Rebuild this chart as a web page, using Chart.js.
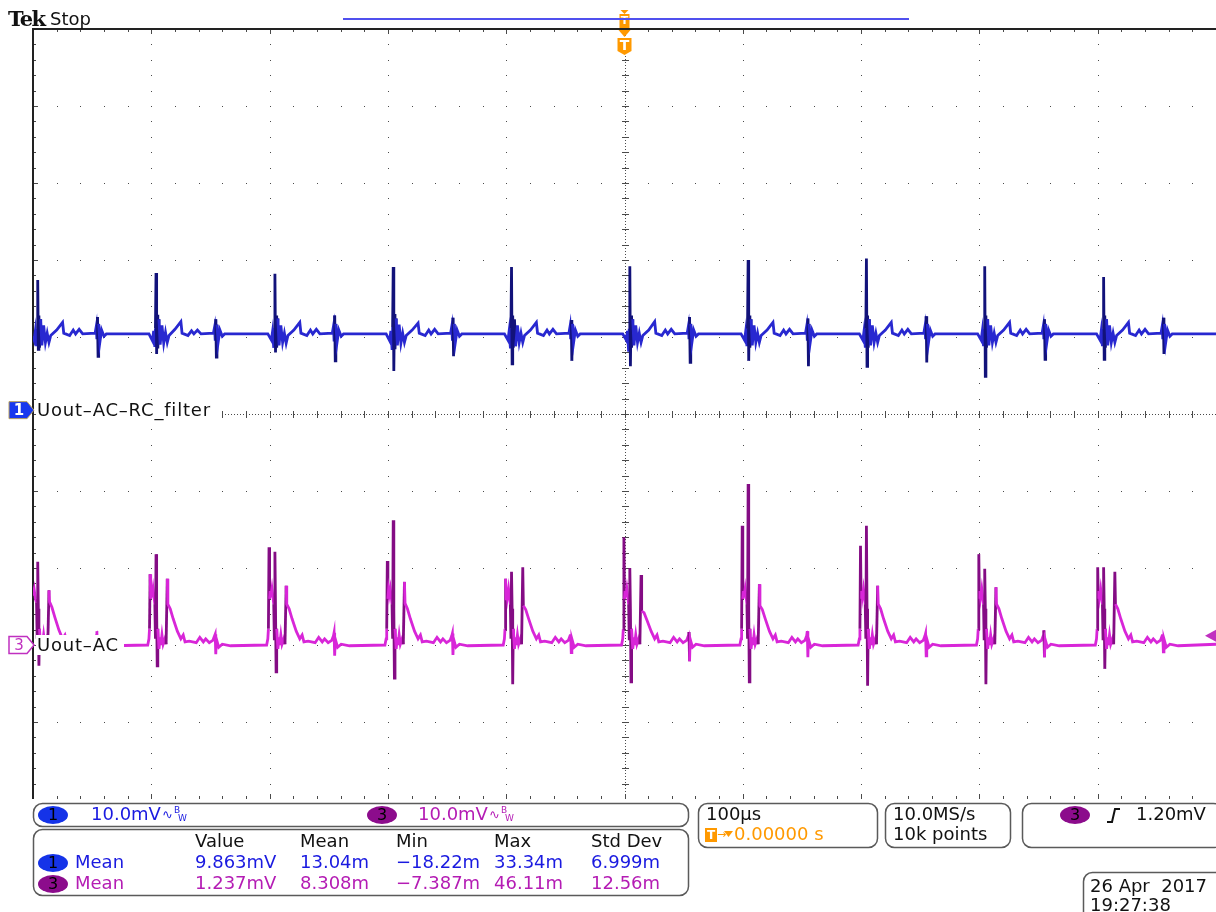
<!DOCTYPE html>
<html>
<head>
<meta charset="utf-8">
<script src="https://cdn.jsdelivr.net/npm/chart.js@4.4.1/dist/chart.umd.min.js"></script>
<style>
  html, body { margin: 0; padding: 0; background: #fff; }
  #scope { display: block; }
</style>
</head>
<body>
<canvas id="scope" width="1216" height="912"></canvas>
<script>
// channel 1 : Uout-AC-RC_filter  (time in µs, voltage in mV)
const ch1Time = [
  -500, -499, -498, -497, -496.5, -496, -495.5, -495, -494.5, -493.5, -492.5, -491, -489.5, -488, -486.5, -485, -480, -475, -474, -469, -466, -464, -461, -458, -447.5, -446.5, -446, -445.5, -445, -444.5, -443.5, -442, -440, -438,
  -402, -399, -398, -397, -396.5, -396, -395.5, -395, -394.5, -393.5, -392.5, -391, -389.5, -388, -386.5, -385, -380, -375, -374, -369, -366, -364, -361, -358, -347.5, -346.5, -346, -345.5, -345, -344.5, -343.5, -342, -340, -338,
  -301.5, -298.5, -297.5, -296.5, -296, -295.5, -295, -294.5, -294, -293, -292, -290.5, -289, -287.5, -286, -284.5, -279.5, -274.5, -273.5, -268.5, -265.5, -263.5, -260.5, -257.5, -247, -246, -245.5, -245, -244.5, -244, -243, -241.5, -239.5, -237.5,
  -201.5, -198.5, -197.5, -196.5, -196, -195.5, -195, -194.5, -194, -193, -192, -190.5, -189, -187.5, -186, -184.5, -179.5, -174.5, -173.5, -168.5, -165.5, -163.5, -160.5, -157.5, -147, -146, -145.5, -145, -144.5, -144, -143, -141.5, -139.5, -137.5,
  -101.5, -98.5, -97.5, -96.5, -96, -95.5, -95, -94.5, -94, -93, -92, -90.5, -89, -87.5, -86, -84.5, -79.5, -74.5, -73.5, -68.5, -65.5, -63.5, -60.5, -57.5, -47, -46, -45.5, -45, -44.5, -44, -43, -41.5, -39.5, -37.5,
  -1.5, 1.5, 2.5, 3.5, 4, 4.5, 5, 5.5, 6, 7, 8, 9.5, 11, 12.5, 14, 15.5, 20.5, 25.5, 26.5, 31.5, 34.5, 36.5, 39.5, 42.5, 53, 54, 54.5, 55, 55.5, 56, 57, 58.5, 60.5, 62.5,
  98.5, 101.5, 102.5, 103.5, 104, 104.5, 105, 105.5, 106, 107, 108, 109.5, 111, 112.5, 114, 115.5, 120.5, 125.5, 126.5, 131.5, 134.5, 136.5, 139.5, 142.5, 153, 154, 154.5, 155, 155.5, 156, 157, 158.5, 160.5, 162.5,
  198.5, 201.5, 202.5, 203.5, 204, 204.5, 205, 205.5, 206, 207, 208, 209.5, 211, 212.5, 214, 215.5, 220.5, 225.5, 226.5, 231.5, 234.5, 236.5, 239.5, 242.5, 253, 254, 254.5, 255, 255.5, 256, 257, 258.5, 260.5, 262.5,
  298.5, 301.5, 302.5, 303.5, 304, 304.5, 305, 305.5, 306, 307, 308, 309.5, 311, 312.5, 314, 315.5, 320.5, 325.5, 326.5, 331.5, 334.5, 336.5, 339.5, 342.5, 353, 354, 354.5, 355, 355.5, 356, 357, 358.5, 360.5, 362.5,
  399, 402, 403, 404, 404.5, 405, 405.5, 406, 406.5, 407.5, 408.5, 410, 411.5, 413, 414.5, 416, 421, 426, 427, 432, 435, 437, 440, 443, 453.5, 454.5, 455, 455.5, 456, 456.5, 457.5, 459, 461, 463,
  500
];
const ch1Mv = [
  9.6, 9.1, 10.3, 8.3, 10.6, 16.9, 7.9, 12.3, 8.1, 11.8, 8.4, 11.0, 8.8, 10.0, 8.8, 9.7, 10.4, 11.4, 10.0, 9.7, 10.4, 9.9, 10.5, 9.9, 10.0, 10.9, 9.2, 12.1, 7.0, 11.2, 8.8, 10.4, 9.6, 9.9,
  9.9, 9.0, 10.3, 8.2, 10.6, 17.8, 7.3, 12.4, 8.0, 11.8, 8.5, 11.0, 8.7, 10.1, 8.8, 9.7, 10.5, 11.5, 10.0, 9.7, 10.3, 9.9, 10.4, 9.9, 10.0, 10.8, 9.2, 11.8, 6.9, 11.1, 8.8, 10.4, 9.6, 9.9,
  9.9, 9.1, 10.2, 8.1, 10.7, 17.7, 7.5, 12.3, 8.1, 11.9, 8.4, 11.0, 8.8, 10.0, 8.7, 9.7, 10.4, 11.4, 10.0, 9.7, 10.4, 9.9, 10.5, 9.9, 10.0, 10.9, 9.1, 12.3, 6.4, 11.2, 8.8, 10.4, 9.6, 9.9,
  9.9, 9.0, 10.3, 8.0, 10.8, 18.6, 5.1, 12.5, 7.9, 11.9, 8.4, 11.1, 8.7, 10.0, 8.8, 9.7, 10.4, 11.3, 10.0, 9.7, 10.4, 9.9, 10.5, 9.9, 10.0, 10.9, 9.2, 12.0, 7.0, 11.2, 8.8, 10.4, 9.6, 9.9,
  9.9, 9.1, 10.3, 8.2, 10.6, 18.6, 6.0, 12.3, 8.1, 11.8, 8.3, 11.0, 8.8, 10.0, 8.8, 9.7, 10.4, 11.4, 10.0, 9.7, 10.4, 9.9, 10.5, 9.9, 10.0, 10.9, 9.2, 11.7, 6.4, 11.2, 8.8, 10.4, 9.6, 9.9,
  9.9, 9.1, 10.3, 7.6, 10.6, 18.7, 5.7, 12.3, 8.1, 11.8, 8.4, 11.0, 8.8, 10.0, 8.8, 9.7, 10.4, 11.5, 10.0, 9.7, 10.4, 9.9, 10.5, 9.9, 10.0, 10.9, 9.2, 12.1, 6.2, 11.2, 8.8, 10.4, 9.6, 9.9,
  9.9, 9.1, 10.3, 8.3, 10.6, 19.5, 6.4, 12.3, 8.1, 11.8, 8.4, 11.0, 8.8, 10.0, 8.8, 9.7, 10.4, 11.4, 10.0, 9.7, 10.4, 9.9, 10.5, 9.9, 10.0, 10.9, 9.2, 11.9, 5.7, 11.2, 8.8, 10.4, 9.6, 9.9,
  9.9, 9.1, 10.3, 8.3, 10.6, 19.7, 5.7, 12.3, 8.1, 11.8, 8.4, 11.0, 8.8, 10.0, 8.8, 9.7, 10.4, 11.4, 10.0, 9.7, 10.4, 9.9, 10.5, 9.9, 10.0, 10.9, 9.2, 12.2, 6.2, 11.2, 8.8, 10.4, 9.6, 9.9,
  9.9, 9.1, 10.3, 8.3, 10.6, 18.7, 4.4, 12.3, 8.1, 11.8, 8.4, 11.0, 8.8, 10.0, 8.8, 9.7, 10.4, 11.4, 10.0, 9.7, 10.4, 9.9, 10.5, 9.9, 10.0, 10.9, 9.2, 11.8, 6.6, 11.2, 8.8, 10.4, 9.6, 9.9,
  9.9, 9.1, 10.3, 8.3, 10.6, 17.3, 6.6, 12.3, 8.1, 11.8, 8.4, 11.0, 8.8, 10.0, 8.8, 9.7, 10.4, 11.4, 10.0, 9.7, 10.4, 9.9, 10.5, 9.9, 10.0, 10.9, 9.2, 12.0, 7.3, 11.2, 8.8, 10.4, 9.6, 9.9,
  9.9
];

// channel 3 : Uout-AC
const ch3Time = [
  -500, -499, -498, -497, -496.5, -496, -495.5, -495, -494.5, -493.5, -492.5, -492, -491, -490, -488.5, -487.5, -486.5, -486, -484, -481.5, -478, -475, -473, -471.5, -468, -462, -459, -456, -454, -451, -448, -446.5, -446, -445.5, -445, -443, -440, -433,
  -403, -402, -401.5, -401, -400.5, -400, -399.5, -398.5, -397.5, -397, -396.5, -396, -395.5, -395, -394.5, -393.5, -392.5, -392, -391, -390, -388.5, -387.5, -386.5, -386, -384, -381.5, -378, -375, -373, -371.5, -368, -362, -359, -356, -354, -351, -348, -346.5, -346, -345.5, -345, -343, -340, -333,
  -302.5, -301.5, -301, -300.5, -300, -299.5, -299, -298, -297, -296.5, -296, -295.5, -295, -294.5, -294, -293, -292, -291.5, -290.5, -289.5, -288, -287, -286, -285.5, -283.5, -281, -277.5, -274.5, -272.5, -271, -267.5, -261.5, -258.5, -255.5, -253.5, -250.5, -247.5, -246, -245.5, -245, -244.5, -242.5, -239.5, -232.5,
  -202.5, -201.5, -201, -200.5, -200, -199.5, -199, -198, -197, -196.5, -196, -195.5, -195, -194.5, -194, -193, -192, -191.5, -190.5, -189.5, -188, -187, -186, -185.5, -183.5, -181, -177.5, -174.5, -172.5, -171, -167.5, -161.5, -158.5, -155.5, -153.5, -150.5, -147.5, -146, -145.5, -145, -144.5, -142.5, -139.5, -132.5,
  -102.5, -101.5, -101, -100.5, -100, -99.5, -99, -98, -97, -96.5, -96, -95.5, -95, -94.5, -94, -93, -92, -91.5, -90.5, -89.5, -88, -87, -86, -85.5, -83.5, -81, -77.5, -74.5, -72.5, -71, -67.5, -61.5, -58.5, -55.5, -53.5, -50.5, -47.5, -46, -45.5, -45, -44.5, -42.5, -39.5, -32.5,
  -2.5, -1.5, -1, -0.5, 0, 0.5, 1, 2, 3, 3.5, 4, 4.5, 5, 5.5, 6, 7, 8, 8.5, 9.5, 10.5, 12, 13, 14, 14.5, 16.5, 19, 22.5, 25.5, 27.5, 29, 32.5, 38.5, 41.5, 44.5, 46.5, 49.5, 52.5, 54, 54.5, 55, 55.5, 57.5, 60.5, 67.5,
  97.5, 98.5, 99, 99.5, 100, 100.5, 101, 102, 103, 103.5, 104, 104.5, 105, 105.5, 106, 107, 108, 108.5, 109.5, 110.5, 112, 113, 114, 114.5, 116.5, 119, 122.5, 125.5, 127.5, 129, 132.5, 138.5, 141.5, 144.5, 146.5, 149.5, 152.5, 154, 154.5, 155, 155.5, 157.5, 160.5, 167.5,
  197.5, 198.5, 199, 199.5, 200, 200.5, 201, 202, 203, 203.5, 204, 204.5, 205, 205.5, 206, 207, 208, 208.5, 209.5, 210.5, 212, 213, 214, 214.5, 216.5, 219, 222.5, 225.5, 227.5, 229, 232.5, 238.5, 241.5, 244.5, 246.5, 249.5, 252.5, 254, 254.5, 255, 255.5, 257.5, 260.5, 267.5,
  297.5, 298.5, 299, 299.5, 300, 300.5, 301, 302, 303, 303.5, 304, 304.5, 305, 305.5, 306, 307, 308, 308.5, 309.5, 310.5, 312, 313, 314, 314.5, 316.5, 319, 322.5, 325.5, 327.5, 329, 332.5, 338.5, 341.5, 344.5, 346.5, 349.5, 352.5, 354, 354.5, 355, 355.5, 357.5, 360.5, 367.5,
  398, 399, 399.5, 400, 400.5, 401, 401.5, 402.5, 403.5, 404, 404.5, 405, 405.5, 406, 406.5, 407.5, 408.5, 409, 410, 411, 412.5, 413.5, 414.5, 415, 417, 419.5, 423, 426, 428, 429.5, 433, 439, 442, 445, 447, 450, 453, 454.5, 455, 455.5, 456, 458, 461, 468,
  500
];
const ch3Mv = [
  6.4, 7.2, 6.0, 5.5, 1.0, 10.8, 4.7, -2.7, 2.1, -0.5, 1.0, 0.0, 1.3, 0.1, 0.8, 0.1, 7.1, 5.6, 4.9, 3.6, 1.9, 0.8, 1.3, 0.4, 0.5, 0.3, 1.0, 0.4, 0.8, 0.3, 0.6, 1.2, 1.8, -1.2, 0.8, -0.3, 0.1, -0.1,
  0.0, 0.8, 2.1, 9.2, 6.0, 7.0, 6.2, 7.3, 6.0, 5.3, 0.8, 11.8, 4.7, -2.7, 2.1, -0.5, 1.0, 0.0, 1.3, 0.1, 0.8, 0.1, 8.6, 5.3, 4.7, 3.4, 1.8, 0.8, 1.3, 0.4, 0.5, 0.3, 1.0, 0.4, 0.8, 0.3, 0.6, 1.2, 1.4, -1.2, 0.8, -0.3, 0.1, -0.1,
  0.0, 0.8, 2.1, 12.7, 6.0, 7.0, 6.2, 7.3, 6.0, 5.3, 0.8, 12.1, 4.7, -3.5, 2.1, -0.5, 1.0, 0.0, 1.3, 0.1, 0.8, 0.1, 7.7, 5.3, 4.7, 3.4, 1.8, 0.8, 1.3, 0.4, 0.5, 0.3, 1.0, 0.4, 0.8, 0.3, 0.6, 1.2, 1.6, -1.4, 0.8, -0.3, 0.1, -0.1,
  0.0, 0.8, 2.1, 10.9, 6.0, 7.0, 6.4, 7.3, 6.0, 5.3, 0.8, 16.2, 4.7, -4.3, 2.1, -0.5, 1.0, 0.0, 1.3, 0.1, 0.8, 0.1, 8.2, 5.4, 4.7, 3.4, 1.8, 0.8, 1.3, 0.4, 0.5, 0.3, 1.0, 0.4, 0.8, 0.3, 0.6, 1.2, 1.5, -1.3, 0.8, -0.3, 0.1, -0.1,
  0.0, 0.8, 2.1, 8.6, 6.0, 7.0, 6.2, 7.3, 6.0, 5.3, 0.8, 9.5, 4.7, -5.1, 2.1, -0.5, 1.0, 0.0, 1.3, 0.1, 0.8, 0.1, 10.1, 5.1, 4.6, 3.4, 1.8, 0.8, 1.3, 0.4, 0.5, 0.3, 1.0, 0.4, 0.8, 0.3, 0.6, 1.2, 1.3, -1.0, 0.8, -0.3, 0.1, -0.1,
  0.0, 0.8, 2.1, 14.0, 6.0, 7.0, 6.2, 7.3, 6.0, 5.3, 0.8, 10.0, 4.7, -4.8, 2.1, -0.5, 1.0, 0.0, 1.3, 0.1, 0.8, 0.1, 9.1, 4.4, 4.2, 3.2, 1.8, 0.8, 1.3, 0.4, 0.5, 0.3, 1.0, 0.4, 0.8, 0.3, 0.6, 1.2, 1.7, -2.1, 0.8, -0.3, 0.1, -0.1,
  0.0, 0.8, 2.1, 15.5, 6.0, 7.0, 6.2, 7.3, 6.0, 5.3, 0.8, 20.9, 4.7, -4.8, 2.1, -0.5, 1.0, 0.0, 1.3, 0.1, 0.8, 0.1, 7.9, 5.1, 4.6, 3.4, 1.8, 0.8, 1.3, 0.4, 0.5, 0.3, 1.0, 0.4, 0.8, 0.3, 0.6, 1.2, 1.8, -1.6, 0.8, -0.3, 0.1, -0.1,
  0.0, 0.8, 2.1, 12.9, 6.0, 7.0, 6.2, 7.3, 6.0, 5.3, 0.8, 15.5, 4.7, -5.3, 2.1, -0.5, 1.0, 0.0, 1.3, 0.1, 0.8, 0.1, 7.7, 5.3, 4.7, 3.4, 1.8, 0.8, 1.3, 0.4, 0.5, 0.3, 1.0, 0.4, 0.8, 0.3, 0.6, 1.2, 1.5, -1.4, 0.8, -0.3, 0.1, -0.1,
  0.0, 0.8, 2.1, 11.8, 6.0, 7.0, 6.2, 7.3, 6.0, 5.3, 0.8, 9.9, 4.7, -5.1, 2.1, -0.5, 1.0, 0.0, 1.3, 0.1, 0.8, 0.1, 7.5, 5.3, 4.7, 3.4, 1.8, 0.8, 1.3, 0.4, 0.5, 0.3, 1.0, 0.4, 0.8, 0.3, 0.6, 1.2, 1.9, -1.6, 0.8, -0.3, 0.1, -0.1,
  0.0, 0.8, 2.1, 10.1, 6.0, 7.0, 6.2, 7.3, 6.0, 5.3, 0.8, 10.1, 4.7, -3.1, 2.1, -0.5, 1.0, 0.0, 1.3, 0.1, 0.8, 0.1, 9.5, 5.3, 4.7, 3.4, 1.8, 0.8, 1.3, 0.4, 0.5, 0.3, 1.0, 0.4, 0.8, 0.3, 0.6, 1.2, 1.3, -0.9, 0.8, -0.3, 0.1, -0.1,
  0.1
];

// screen: 10 div x 100 µs, 10 div vertical, 10 mV/div on both channels
const xTicks = [-500, -400, -300, -200, -100, 0, 100, 200, 300, 400, 500];
const yTicks = [-5, -4, -3, -2, -1, 0, 1, 2, 3, 4, 5];
const mvPerDiv = 10;
const ch1Pos = 0.05;   // ground marker, divisions
const ch3Pos = -3.0;
const trigLevelMv = 1.2;

const statHeader = ['Value', 'Mean', 'Min', 'Max', 'Std Dev'];
const ch1Stats = ['9.863mV', '13.04m', '\u221218.22m', '33.34m', '6.999m'];
const ch3Stats = ['1.237mV', '8.308m', '\u22127.387m', '46.11m', '12.56m'];
const statCols = [195, 300, 396, 494, 591];

const BLUE = '#1a1ae0';
const MAG = '#b41cb4';
const ORANGE = '#ff9900';
const FONT = '"DejaVu Sans", sans-serif';

const toPoints = (t, v, pos) => t.map((x, i) => ({ x: x, y: pos + v[i] / mvPerDiv }));

// steep, short segments are drawn darker, like the dense spots of the scope display
const steep = (dark) => (c) => {
  const dx = Math.abs(c.p1.parsed.x - c.p0.parsed.x);
  const dy = Math.abs(c.p1.parsed.y - c.p0.parsed.y);
  return dx <= 1 && dy > 0.35 ? dark : undefined;
};

function panel(ctx, x, y, w, h) {
  ctx.beginPath();
  ctx.roundRect(x + 0.5, y + 0.5, w, h, 9);
  ctx.strokeStyle = '#5a5a5a';
  ctx.lineWidth = 1.5;
  ctx.stroke();
}

function badge(ctx, cx, cy, fill, label) {
  ctx.beginPath();
  ctx.ellipse(cx, cy, 15, 9, 0, 0, Math.PI * 2);
  ctx.fillStyle = fill;
  ctx.fill();
  ctx.fillStyle = '#000';
  ctx.font = '16px ' + FONT;
  ctx.textAlign = 'center';
  ctx.textBaseline = 'middle';
  ctx.fillText(label, cx, cy + 1);
  ctx.textAlign = 'left';
}

function bwText(ctx, x, y, color) {
  ctx.fillStyle = color;
  ctx.font = '18px ' + FONT;
  ctx.textBaseline = 'middle';
  ctx.fillText('10.0mV', x, y);
  const w = ctx.measureText('10.0mV').width;
  ctx.font = '13px ' + FONT;
  ctx.fillText('\u223F', x + w + 1, y + 1);
  ctx.font = '9px ' + FONT;
  ctx.fillText('B', x + w + 13, y - 4);
  ctx.fillText('W', x + w + 17, y + 4);
}

const scopePlugin = {
  id: 'scope',
  beforeDatasetsDraw(chart) {
    const ctx = chart.ctx;
    const { left, right, top, bottom } = chart.chartArea;
    const xs = chart.scales.x, ys = chart.scales.y;
    const cx = Math.round(xs.getPixelForValue(0));
    const cy = Math.round(ys.getPixelForValue(0));
    ctx.save();
    ctx.fillStyle = '#4a4a4a';
    // dotted major lines
    xTicks.forEach(t => {
      if (t === 0 || t === -500 || t === 500) return;
      const px = Math.round(xs.getPixelForValue(t));
      for (let k = 1; k < 50; k++) ctx.fillRect(px, Math.round(ys.getPixelForValue(-5 + k * 0.2)), 1, 1);
    });
    yTicks.forEach(v => {
      if (v === 0 || v === -5 || v === 5) return;
      const py = Math.round(ys.getPixelForValue(v));
      for (let k = 1; k < 50; k++) ctx.fillRect(Math.round(xs.getPixelForValue(-500 + k * 20)), py, 1, 1);
    });
    // centre cross
    for (let py = top; py < bottom; py += 3) ctx.fillRect(cx, py, 1, 1);
    for (let px = left; px < right; px += 3) ctx.fillRect(px, cy, 1, 1);
    for (let k = 1; k < 50; k++) {
      const py = Math.round(ys.getPixelForValue(-5 + k * 0.2));
      ctx.fillRect(cx - 3, py, 7, 1);
      const px = Math.round(xs.getPixelForValue(-500 + k * 20));
      ctx.fillRect(px, cy - 3, 1, 7);
    }
    // frame ticks
    for (let k = 1; k < 50; k++) {
      const px = Math.round(xs.getPixelForValue(-500 + k * 20));
      const len = k % 5 === 0 ? 5 : 3;
      ctx.fillRect(px, top, 1, len);
      ctx.fillRect(px, bottom - len, 1, len);
      const py = Math.round(ys.getPixelForValue(-5 + k * 0.2));
      ctx.fillRect(left, py, len, 1);
    }
    // frame
    ctx.fillStyle = '#222';
    ctx.fillRect(left - 1, top - 1, right - left + 1, 2);
    ctx.fillRect(left - 1, top - 1, 2, bottom - top + 1);
    ctx.restore();
  },
  afterDatasetsDraw(chart) {
    const ctx = chart.ctx;
    const ys = chart.scales.y, xs = chart.scales.x;
    const y1 = ys.getPixelForValue(ch1Pos);
    const y3 = ys.getPixelForValue(ch3Pos);
    ctx.save();
    // trace labels
    ctx.font = '18px ' + FONT;
    ctx.textBaseline = 'middle';
    if ('letterSpacing' in ctx) ctx.letterSpacing = '0.8px';
    ctx.fillStyle = '#fff';
    ctx.fillRect(36, y1 - 10, 184, 20);
    ctx.fillRect(36, y3 - 10, 88, 20);
    ctx.fillStyle = '#111';
    ctx.fillText('Uout\u2013AC\u2013RC_filter', 37, y1 + 1);
    ctx.fillText('Uout\u2013AC', 37, y3 + 1);
    if ('letterSpacing' in ctx) ctx.letterSpacing = '0px';

    // channel ground markers
    ctx.beginPath();
    ctx.moveTo(9, y1 - 8.5); ctx.lineTo(27, y1 - 8.5); ctx.lineTo(34, y1); ctx.lineTo(27, y1 + 8.5); ctx.lineTo(9, y1 + 8.5); ctx.closePath();
    ctx.fillStyle = '#1838ee'; ctx.fill();
    ctx.strokeStyle = '#b8a060'; ctx.lineWidth = 1; ctx.stroke();
    ctx.fillStyle = '#fff'; ctx.font = 'bold 15px ' + FONT; ctx.textAlign = 'center';
    ctx.fillText('1', 19, y1 + 1);
    ctx.beginPath();
    ctx.moveTo(9, y3 - 8.5); ctx.lineTo(27, y3 - 8.5); ctx.lineTo(34, y3); ctx.lineTo(27, y3 + 8.5); ctx.lineTo(9, y3 + 8.5); ctx.closePath();
    ctx.fillStyle = '#fff'; ctx.fill();
    ctx.strokeStyle = '#c030c0'; ctx.lineWidth = 1.5; ctx.stroke();
    ctx.fillStyle = '#c030c0'; ctx.font = '15px ' + FONT;
    ctx.fillText('3', 19, y3 + 1);
    ctx.textAlign = 'left';

    // trigger level marker (right edge)
    const yt = ys.getPixelForValue(ch3Pos + trigLevelMv / mvPerDiv);
    ctx.beginPath();
    ctx.moveTo(1205, yt); ctx.lineTo(1216, yt - 6); ctx.lineTo(1216, yt + 6); ctx.closePath();
    ctx.fillStyle = '#c030c0'; ctx.fill();

    // trigger position markers
    const tx = xs.getPixelForValue(0);
    ctx.fillStyle = ORANGE;
    ctx.beginPath(); ctx.moveTo(tx - 4, 10); ctx.lineTo(tx + 4, 10); ctx.lineTo(tx, 14); ctx.closePath(); ctx.fill();
    ctx.fillRect(tx - 5, 14, 10, 14);
    ctx.beginPath(); ctx.moveTo(tx - 6, 30); ctx.lineTo(tx + 6, 30); ctx.lineTo(tx, 37); ctx.closePath(); ctx.fill();
    ctx.beginPath();
    ctx.moveTo(tx - 7, 38); ctx.lineTo(tx + 7, 38); ctx.lineTo(tx + 7, 51); ctx.lineTo(tx, 55); ctx.lineTo(tx - 7, 51); ctx.closePath(); ctx.fill();
    ctx.fillStyle = '#fff'; ctx.textAlign = 'center';
    ctx.font = 'bold 11px ' + FONT; ctx.fillText('T', tx, 21.5);
    ctx.font = 'bold 14px ' + FONT; ctx.fillText('T', tx, 46);
    ctx.textAlign = 'left';
    ctx.restore();
  },
  afterDraw(chart) {
    const ctx = chart.ctx;
    ctx.save();
    // header
    ctx.textBaseline = 'alphabetic';
    ctx.fillStyle = '#111';
    ctx.font = 'bold 21px "DejaVu Serif", serif';
    if ('letterSpacing' in ctx) ctx.letterSpacing = '-1.5px';
    ctx.fillText('Tek', 8, 26);
    if ('letterSpacing' in ctx) ctx.letterSpacing = '0px';
    ctx.font = '18px ' + FONT;
    ctx.fillText('Stop', 50, 25);
    ctx.fillStyle = '#5050ee';
    ctx.fillRect(343, 18, 566, 2);

    // vertical settings
    panel(ctx, 33, 803, 655, 23);
    badge(ctx, 53, 815, '#1533e8', '1');
    bwText(ctx, 91, 815, BLUE);
    badge(ctx, 382, 815, '#8c0c8c', '3');
    bwText(ctx, 418, 815, MAG);

    // measurements
    panel(ctx, 33, 829, 655, 66);
    ctx.font = '18px ' + FONT;
    ctx.textBaseline = 'middle';
    ctx.fillStyle = '#111';
    statHeader.forEach((s, i) => ctx.fillText(s, statCols[i], 842));
    badge(ctx, 53, 863, '#1533e8', '1');
    badge(ctx, 53, 884, '#8c0c8c', '3');
    ctx.font = '18px ' + FONT;
    ctx.textBaseline = 'middle';
    ctx.fillStyle = BLUE;
    ctx.fillText('Mean', 75, 863);
    ch1Stats.forEach((s, i) => ctx.fillText(s, statCols[i], 863));
    ctx.fillStyle = MAG;
    ctx.fillText('Mean', 75, 884);
    ch3Stats.forEach((s, i) => ctx.fillText(s, statCols[i], 884));

    // horizontal
    panel(ctx, 698, 803, 179, 44);
    ctx.fillStyle = '#111';
    ctx.fillText('100\u00B5s', 706, 815);
    ctx.fillStyle = ORANGE;
    ctx.fillRect(705, 828, 12, 14);
    ctx.fillStyle = '#fff'; ctx.font = 'bold 12px ' + FONT; ctx.textAlign = 'center';
    ctx.fillText('T', 711, 835.5);
    ctx.textAlign = 'left';
    ctx.fillStyle = ORANGE; ctx.font = '11px ' + FONT;
    ctx.fillText('\u2192', 717, 835);
    ctx.beginPath(); ctx.moveTo(724, 831); ctx.lineTo(733, 831); ctx.lineTo(728.5, 837); ctx.closePath(); ctx.fill();
    ctx.font = '18px ' + FONT;
    ctx.fillText('0.00000 s', 734, 835);

    // acquisition
    panel(ctx, 885, 803, 125, 44);
    ctx.fillStyle = '#111';
    ctx.fillText('10.0MS/s', 893, 815);
    ctx.fillText('10k points', 893, 835);

    // trigger
    panel(ctx, 1022, 803, 200, 44);
    badge(ctx, 1075, 815, '#8c0c8c', '3');
    ctx.strokeStyle = '#111'; ctx.lineWidth = 2;
    ctx.beginPath(); ctx.moveTo(1107, 822); ctx.lineTo(1112, 822); ctx.lineTo(1115, 809); ctx.lineTo(1120, 809); ctx.stroke();
    ctx.fillStyle = '#111'; ctx.font = '18px ' + FONT; ctx.textBaseline = 'middle';
    ctx.fillText('1.20mV', 1136, 815);

    // date
    panel(ctx, 1083, 872, 140, 48);
    ctx.fillText('26 Apr  2017', 1090, 887);
    ctx.fillText('19:27:38', 1090, 906);
    ctx.restore();
  }
};

new Chart(document.getElementById('scope'), {
  type: 'line',
  data: {
    datasets: [
      {
        label: 'Uout-AC',
        data: toPoints(ch3Time, ch3Mv, ch3Pos),
        borderColor: '#d826d8',
        borderWidth: 2.8,
        pointRadius: 0,
        tension: 0,
        segment: { borderColor: steep('#840c84') }
      },
      {
        label: 'Uout-AC-RC_filter',
        data: toPoints(ch1Time, ch1Mv, ch1Pos),
        borderColor: '#2828d0',
        borderWidth: 2.8,
        pointRadius: 0,
        tension: 0,
        segment: { borderColor: steep('#12127a') }
      }
    ]
  },
  options: {
    responsive: false,
    animation: false,
    events: [],
    layout: { padding: { left: 33, top: 29, right: 0, bottom: 113 } },
    plugins: { legend: { display: false }, tooltip: { enabled: false } },
    scales: {
      x: { type: 'linear', min: -500, max: 500, display: false },
      y: { type: 'linear', min: -5, max: 5, display: false }
    }
  },
  plugins: [scopePlugin]
});
</script>
</body>
</html>
